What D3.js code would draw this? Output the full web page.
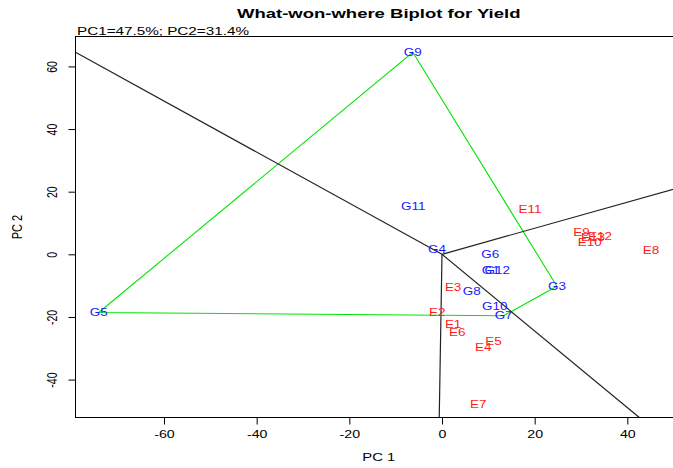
<!DOCTYPE html>
<html>
<head>
<meta charset="utf-8">
<script src="https://cdn.jsdelivr.net/npm/d3@7"></script>
<style>
  html, body { margin: 0; padding: 0; background: #fff; }
  svg { display: block; font-family: "Liberation Sans", Arial, sans-serif; }
</style>
</head>
<body>
<svg id="chart" width="673" height="468"></svg>
<script>
// Genotype scores (PC1, PC2)
const genotypes = ["G1", "G3", "G4", "G5", "G6", "G7", "G8", "G9", "G10", "G11", "G12"];
const genoPC1   = [10.5, 24.8, -1.1, -74.1, 10.4, 13.3, 6.4, -6.3, 11.4, -6.2, 11.9];
const genoPC2   = [-5.1, -10.2, 1.6, -18.6, 0.0, -19.6, -11.8, 64.5, -16.6, 15.4, -5.1];

// Environment scores (PC1, PC2)
const environments = ["E1", "E2", "E3", "E4", "E5", "E6", "E7", "E8", "E9", "E10", "E11", "E12", "E13"];
const envPC1       = [2.4, -1.0, 2.4, 8.9, 11.1, 3.3, 7.8, 45.1, 30.1, 31.9, 19.0, 34.1, 32.6];
const envPC2       = [-22.3, -18.6, -10.6, -29.8, -27.7, -25.0, -47.9, 1.3, 6.9, 3.9, 14.4, 5.7, 5.4];

// Vertex genotypes of the convex hull, in drawing order
const hullOrder = ["G9", "G3", "G7", "G5"];

// Axis ticks
const xTicks = [-60, -40, -20, 0, 20, 40];
const yTicks = [-40, -20, 0, 20, 40, 60];

const title    = "What-won-where Biplot for Yield";
const subtitle = "PC1=47.5%; PC2=31.4%";
const xTitle   = "PC 1";
const yTitle   = "PC 2";

// ---- layout ----
const plotL = 75.5, plotR = 682, plotT = 36.5, plotB = 417.5;
const sx = 1.35;            // horizontal stretch applied to all text
const font = '"Liberation Sans", Arial, sans-serif';

const x = d3.scaleLinear().domain([-79.1, 51.8]).range([plotL, plotR]);
const y = d3.scaleLinear().domain([-52.1, 69.55]).range([plotB, plotT]);

const svg = d3.select("#chart");

svg.append("defs").append("clipPath").attr("id", "plotClip")
  .append("rect")
  .attr("x", plotL).attr("y", plotT)
  .attr("width", plotR - plotL).attr("height", plotB - plotT);

const geno = genotypes.map((g, i) => ({ name: g, pc1: genoPC1[i], pc2: genoPC2[i] }));
const envs = environments.map((e, i) => ({ name: e, pc1: envPC1[i], pc2: envPC2[i] }));
const byName = new Map(geno.map(d => [d.name, d]));
const hull = hullOrder.map(n => byName.get(n));

const plot = svg.append("g").attr("clip-path", "url(#plotClip)");

// Convex hull polygon
plot.append("path")
  .attr("d", d3.line().x(d => x(d.pc1)).y(d => y(d.pc2))(hull) + "Z")
  .attr("fill", "none")
  .attr("stroke", "#00e600")
  .attr("stroke-width", 1.1);

// Rays from the origin, perpendicular to each hull side, out to the plot edge
const [xd0, xd1] = x.domain(), [yd0, yd1] = y.domain();
hull.forEach((a, i) => {
  const b = hull[(i + 1) % hull.length];
  const ex = b.pc1 - a.pc1, ey = b.pc2 - a.pc2;
  const t = -(a.pc1 * ex + a.pc2 * ey) / (ex * ex + ey * ey);
  const px = a.pc1 + t * ex, py = a.pc2 + t * ey;   // foot of perpendicular
  const lims = [];
  if (px > 0) lims.push(xd1 / px); if (px < 0) lims.push(xd0 / px);
  if (py > 0) lims.push(yd1 / py); if (py < 0) lims.push(yd0 / py);
  const s = d3.min(lims);
  plot.append("line")
    .attr("x1", x(0)).attr("y1", y(0))
    .attr("x2", x(px * s)).attr("y2", y(py * s))
    .attr("stroke", "#222")
    .attr("stroke-width", 1.2);
});

// Point labels
function labels(data, color) {
  plot.selectAll(null).data(data).enter().append("text")
    .attr("transform", d => `translate(${x(d.pc1)},${y(d.pc2)}) scale(${sx},1)`)
    .attr("text-anchor", "middle")
    .attr("dy", "0.36em")
    .attr("font-size", 10)
    .attr("fill", color)
    .text(d => d.name);
}
labels(geno, "#1a1aff");
labels(envs, "#ff1a1a");

// Frame
svg.append("rect")
  .attr("x", plotL).attr("y", plotT)
  .attr("width", plotR - plotL).attr("height", plotB - plotT)
  .attr("fill", "none").attr("stroke", "#000").attr("stroke-width", 1);

// Axes (plain hyphen for negative numbers)
const fmt = d => String(d);
const xAxis = svg.append("g")
  .attr("transform", `translate(0,${plotB})`)
  .call(d3.axisBottom(x).tickValues(xTicks).tickFormat(fmt).tickSize(7).tickSizeOuter(0).tickPadding(6));
const yAxis = svg.append("g")
  .attr("transform", `translate(${plotL},0)`)
  .call(d3.axisLeft(y).tickValues(yTicks).tickFormat(fmt).tickSize(7).tickSizeOuter(0));

[xAxis, yAxis].forEach(g => {
  g.select(".domain").remove();
  g.selectAll(".tick line").attr("stroke", "#000");
  g.selectAll(".tick text").attr("fill", "#000").attr("font-size", 10.5).attr("font-family", font);
});
xAxis.selectAll(".tick text").attr("transform", `scale(${sx},1)`);
yAxis.selectAll(".tick text")
  .attr("x", null).attr("dy", "0.36em")
  .attr("text-anchor", "middle")
  .attr("transform", `translate(-24,0) scale(${sx},1) rotate(-90)`);

// Titles
svg.append("text")
  .attr("transform", `translate(${(plotL + plotR) / 2},18) scale(${sx},1)`)
  .attr("text-anchor", "middle")
  .attr("font-size", 13.7).attr("font-weight", "bold")
  .text(title);

svg.append("text")
  .attr("transform", `translate(77,35) scale(${sx},1)`)
  .attr("font-size", 11.3)
  .text(subtitle);

svg.append("text")
  .attr("transform", `translate(${(plotL + plotR) / 2},461) scale(${sx},1)`)
  .attr("text-anchor", "middle")
  .attr("font-size", 11)
  .text(xTitle);

svg.append("text")
  .attr("transform", `translate(17,${(plotT + plotB) / 2}) scale(${sx},1) rotate(-90)`)
  .attr("text-anchor", "middle")
  .attr("dy", "0.36em")
  .attr("font-size", 11)
  .text(yTitle);
</script>
</body>
</html>
